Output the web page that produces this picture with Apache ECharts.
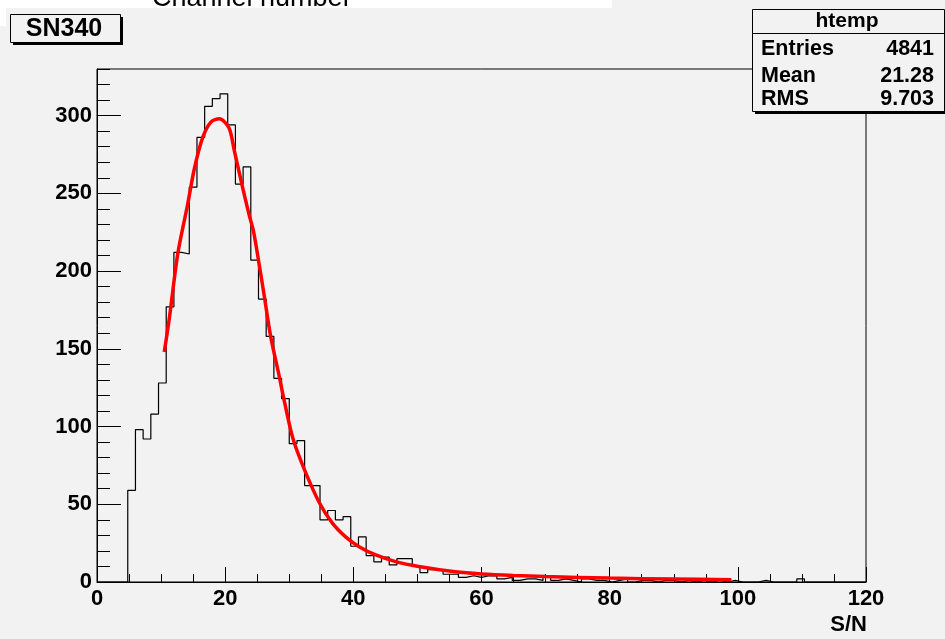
<!DOCTYPE html>
<html><head><meta charset="utf-8">
<script src="https://cdn.jsdelivr.net/npm/echarts@6/dist/echarts.min.js"></script>
<style>html,body{margin:0;padding:0;background:#fff}#c{width:945px;height:639px}</style>
</head><body><div id="c"></div>
<script>
// ---- data ----
const histTitle = 'SN340';
const topClippedText = 'Channel number';
const xTitle = 'S/N';
const binStart = 0;
const binWidth = 1.2;
const binCounts = [
  0, 0, 0, 0, 59, 98, 92, 108, 128, 177,
  212, 211, 254, 286, 306, 311, 314, 294, 256, 267,
  207, 182, 158, 131, 118, 89, 91, 62, 62, 40,
  46, 40, 42, 23, 29, 17, 13, 16, 11, 15,
  15, 10, 6, 8, 8, 5, 5, 3, 4, 3,
  4, 4, 2, 3, 1, 2, 2, 1, 3, 1,
  2, 1, 0, 2, 1, 1, 0, 1, 2, 0,
  1, 1, 0, 1, 1, 0, 1, 0, 1, 0,
  1, 0, 1, 0, 0, 0, 1, 0, 0, 0,
  0, 2, 0, 0, 0, 0, 0, 0, 0, 0
];
const fitX = [10.5, 11.3, 12.6, 14.15, 15.2, 16.5, 17.8, 19.1, 20.6, 21.4, 22.6, 23.75, 24.4, 25.2, 26.1, 27.1, 28.4, 29.3, 30.6, 32.4, 34.7, 36.7, 38.8, 40.9, 43.5, 46.6, 50.2, 55.9, 60, 65, 70, 80, 90, 99];
const fitY = [148, 170, 211, 243, 266, 286, 296, 298, 292, 278, 256, 236, 226, 207, 184, 158, 133, 115, 92, 72, 51, 38, 29, 22.7, 17.4, 13.1, 10, 6.6, 5.2, 4.2, 3.5, 2.5, 1.9, 1.5];
const statsName = 'htemp';
const statsLabels = ['Entries', 'Mean', 'RMS'];
const statsValues = ['4841', '21.28', '9.703'];
const xMin = 0, xMax = 120, xStep = 20;
const yMin = 0, yMax = 330, yStep = 50, yMinorStep = 10;

// ---- build ----
const histData = binCounts.map((c, i) => [binStart + i * binWidth, c]);
histData.push([binStart + binCounts.length * binWidth, binCounts[binCounts.length - 1]]);
const fitData = fitX.map((x, i) => [x, fitY[i]]);

const FONT = '"Liberation Sans", Arial, Helvetica, sans-serif';
const BG = '#f2f2f2';
const chart = echarts.init(document.getElementById('c'), null, {renderer: 'canvas'});

const statsRowsY = [49, 76, 99];
const graphics = [
  {type: 'rect', shape: {x: 0, y: 0, width: 612, height: 8}, style: {fill: '#fff'}, z: 1},
  {type: 'text', x: 152, y: 12, style: {text: topClippedText, font: 'normal 27px ' + FONT, fill: '#000', verticalAlign: 'bottom', align: 'left'}, z: 2},
  {type: 'rect', shape: {x: 0, y: 8, width: 6, height: 18}, style: {fill: '#fff'}, z: 1},
  // title box
  {type: 'rect', shape: {x: 13, y: 17, width: 110, height: 28}, style: {fill: '#000'}, z: 3},
  {type: 'rect', shape: {x: 10.5, y: 14.5, width: 110, height: 28}, style: {fill: BG, stroke: '#000', lineWidth: 1}, z: 4},
  {type: 'text', x: 64, y: 29, style: {text: histTitle, font: 'bold 25px ' + FONT, fill: '#000', align: 'center', verticalAlign: 'middle'}, z: 5},
  // stats box
  {type: 'rect', shape: {x: 755, y: 12, width: 192, height: 102}, style: {fill: '#000'}, z: 3},
  {type: 'rect', shape: {x: 752.5, y: 9.5, width: 192, height: 102}, style: {fill: BG, stroke: '#000', lineWidth: 1}, z: 4},
  {type: 'line', shape: {x1: 752.5, y1: 33.5, x2: 945, y2: 33.5}, style: {stroke: '#000', lineWidth: 1}, z: 5},
  {type: 'text', x: 847, y: 21.5, style: {text: statsName, font: 'bold 21px ' + FONT, fill: '#000', align: 'center', verticalAlign: 'middle'}, z: 5},
  // axis title
  {type: 'text', x: 867, y: 625, style: {text: xTitle, font: 'bold 22px ' + FONT, fill: '#000', align: 'right', verticalAlign: 'middle'}, z: 5}
];
statsLabels.forEach((lab, i) => {
  graphics.push({type: 'text', x: 761, y: statsRowsY[i], style: {text: lab, font: 'bold 21.5px ' + FONT, fill: '#000', align: 'left', verticalAlign: 'middle'}, z: 5});
  graphics.push({type: 'text', x: 934, y: statsRowsY[i], style: {text: statsValues[i], font: 'bold 21.5px ' + FONT, fill: '#000', align: 'right', verticalAlign: 'middle'}, z: 5});
});

const labelStyle = {color: '#000', fontFamily: FONT, fontWeight: 'bold', fontSize: 22};

chart.setOption({
  animation: false,
  backgroundColor: BG,
  grid: {left: 97, top: 69, width: 769, height: 513, show: true, borderColor: '#000', borderWidth: 1, backgroundColor: 'transparent', containLabel: false},
  xAxis: {
    type: 'value', min: xMin, max: xMax, interval: xStep,
    axisLine: {show: true, lineStyle: {color: '#000', width: 1}},
    axisTick: {show: true, inside: true, length: 15, lineStyle: {color: '#000', width: 1}},
    minorTick: {show: true, splitNumber: 4, length: 8, lineStyle: {color: '#000', width: 1}},
    splitLine: {show: false}, minorSplitLine: {show: false},
    axisLabel: Object.assign({margin: 6}, labelStyle)
  },
  yAxis: [
    {
      type: 'value', min: yMin, max: yMax, interval: yStep, position: 'left',
      axisLine: {show: true, lineStyle: {color: '#000', width: 1}},
      axisTick: {show: true, inside: true, length: 24, lineStyle: {color: '#000', width: 1}},
      minorTick: {show: false},
      splitLine: {show: false},
      axisLabel: Object.assign({margin: 5, showMaxLabel: false}, labelStyle)
    },
    {
      type: 'value', min: yMin, max: yMax, interval: yMinorStep, position: 'left',
      axisLine: {show: false},
      axisTick: {show: true, inside: true, length: 13, lineStyle: {color: '#000', width: 1}},
      splitLine: {show: false},
      axisLabel: {show: false}
    }
  ],
  graphic: graphics,
  series: [
    {
      type: 'line', name: 'htemp', data: histData, step: 'end', showSymbol: false, symbol: 'none',
      lineStyle: {color: '#000', width: 1.2}, z: 3, clip: true
    },
    {
      type: 'line', name: 'fit', data: fitData, smooth: 0.3, showSymbol: false, symbol: 'none',
      lineStyle: {color: '#ff0000', width: 3.5}, z: 4
    }
  ]
});
</script>
</body></html>
